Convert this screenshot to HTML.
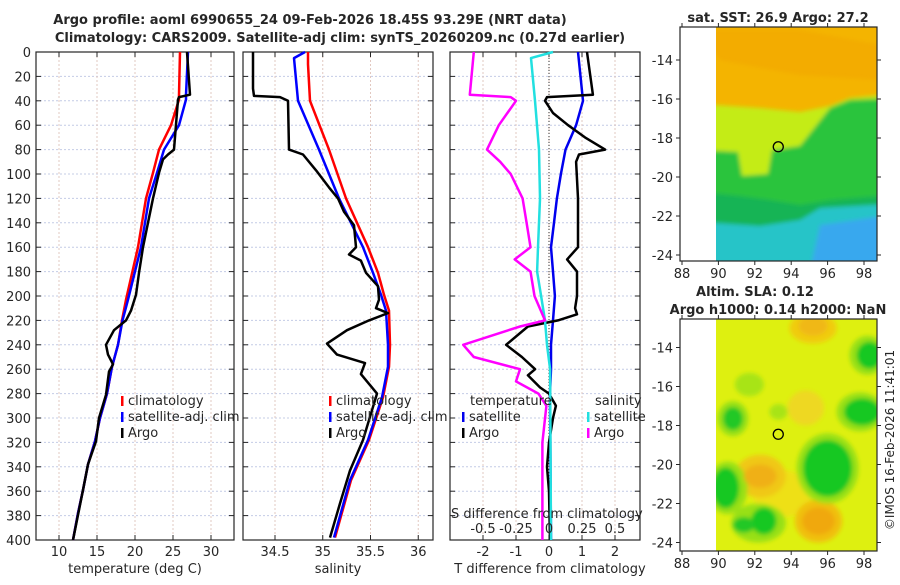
<!DOCTYPE html>
<html><head><meta charset="utf-8"><style>
body{margin:0;background:#fff;}
svg text{font-family:"DejaVu Sans","Liberation Sans",sans-serif;fill:#262626;}
</style></head><body>
<svg id="c" width="900" height="580" viewBox="0 0 900 580" xmlns="http://www.w3.org/2000/svg">
<defs>
<filter id="bl" x="-20%" y="-20%" width="140%" height="140%"><feGaussianBlur stdDeviation="2"/></filter>
<clipPath id="m1c"><rect x="716" y="27" width="161" height="234"/></clipPath>
<clipPath id="m2c"><rect x="716" y="319" width="161" height="232"/></clipPath>
</defs>
<text x="310" y="24" text-anchor="middle" font-size="13" font-weight="bold">Argo profile: aoml 6990655_24 09-Feb-2026 18.45S 93.29E (NRT data)</text>
<text x="340" y="42" text-anchor="middle" font-size="13" font-weight="bold">Climatology: CARS2009. Satellite-adj clim: synTS_20260209.nc (0.27d earlier)</text>
<g id="plots"></g>
</svg>
<script>
const depthTicks=[0,20,40,60,80,100,120,140,160,180,200,220,240,260,280,300,320,340,360,380,400];
const tTicks=[10,15,20,25,30];
const sTicks=[34.5,35,35.5,36];
const dTTicks=[-2,-1,0,1,2];
const dSTicks=[-0.5,-0.25,0,0.25,0.5];
const dSTickLabels=['-0.5','-0.25','0','0.25','0.5'];
// temperature
const tClimDepth=[0,35,39,60,80,99,120,160,203,220,240,258,280,300,319,338,359,378,400];
const tClimVal=[25.92,25.79,25.79,24.74,23.16,22.37,21.45,20.39,18.82,18.29,17.76,16.97,16.32,15.39,14.74,13.82,13.16,12.5,11.84];
const tSatDepth=[0,35,39,60,80,99,120,160,203,220,240,258,280,300,319,338,359,378,400];
const tSatVal=[26.97,26.71,26.71,25.79,23.82,22.89,21.84,20.79,19.08,18.35,17.76,16.97,16.32,15.39,14.74,13.82,13.16,12.5,11.84];
const tArgoDepth=[0,35,37,39,80,84,88,99,120,140,160,181,199,212,220,228,240,248,256,262,281,300,319,338,359,400];
const tArgoVal=[26.84,27.24,25.79,25.66,25.13,24.34,23.68,23.16,22.37,21.71,21.05,20.53,20.13,19.47,18.82,17.24,16.18,16.45,17.11,16.58,16.18,15.26,14.87,13.82,13.16,11.84];
// salinity
const sClimDepth=[0,10,40,80,120,160,181,199,212,240,258,283,318,351,398];
const sClimVal=[34.846,34.846,34.867,35.065,35.243,35.474,35.579,35.641,35.694,35.704,35.694,35.631,35.484,35.296,35.128];
const sSatDepth=[0,5,40,80,120,160,181,199,212,240,258,283,318,351,398];
const sSatVal=[34.814,34.699,34.741,34.961,35.17,35.421,35.526,35.61,35.662,35.683,35.683,35.62,35.474,35.285,35.118];
const sArgoDepth=[0,30,36,37,40,80,84,97,111,120,131,142,160,166,171,181,192,203,210,214,220,228,239,248,255,264,273,280,299,318,343,370,398];
const sArgoVal=[34.27,34.27,34.28,34.552,34.636,34.647,34.793,34.929,35.065,35.16,35.223,35.327,35.348,35.275,35.4,35.453,35.579,35.589,35.558,35.683,35.484,35.254,35.045,35.149,35.442,35.4,35.495,35.568,35.495,35.421,35.285,35.181,35.076];
// differences
const dTSatDepth=[0,40,60,80,100,120,140,160,180,200,220,240,260,280,400];
const dTSatVal=[0.88,1.03,0.82,0.5,0.36,0.24,0.15,0.06,0.12,0.18,0.12,0.06,0.06,0.03,0.06];
const dTArgoDepth=[0,35,37,40,50,60,70,80,84,90,120,160,170,180,200,210,215,220,225,240,250,260,265,275,280,290,300,320,340,360,400];
const dTArgoVal=[1.15,1.33,-0.06,-0.12,0.12,0.58,1.09,1.7,0.91,0.82,0.88,0.88,0.55,0.85,0.85,0.79,0.85,0.27,-0.64,-1.3,-0.82,-0.42,-0.64,-0.27,0,0.21,0.12,0,-0.06,0,0.03];
const dSSatDepth=[0,5,40,80,120,160,180,200,220,240,260,400];
const dSSatVal=[0.03,-0.136,-0.106,-0.076,-0.068,-0.083,-0.09,-0.06,-0.03,-0.015,0.008,0.015];
const dSArgoDepth=[0,35,37,40,60,80,90,100,120,140,160,170,180,200,220,225,240,250,260,270,280,290,320,360,400];
const dSArgoVal=[-0.57,-0.6,-0.29,-0.25,-0.38,-0.47,-0.37,-0.29,-0.2,-0.17,-0.14,-0.26,-0.14,-0.11,-0.03,-0.22,-0.65,-0.57,-0.22,-0.25,-0.08,-0.02,-0.05,-0.05,-0.05];

const NS='http://www.w3.org/2000/svg';
const root=document.getElementById('plots');
function el(tag,attrs,parent,txt){const e=document.createElementNS(NS,tag);for(const k in attrs)e.setAttribute(k,attrs[k]);if(txt!==undefined)e.textContent=txt;(parent||root).appendChild(e);return e;}
const Y0=52,Y1=540;
const yD=d=>Y0+d/400*(Y1-Y0);
const xT=t=>59+(t-10)*7.6;
const xS=s=>275+(s-34.5)*95.5;
const xDT=d=>549+d*33;
const xDS=d=>549+d*132;

function panel(name){
  const g=el('g',{});
  
  
  return g;
}
function grid(g,x0,x1,xs){
  depthTicks.forEach(d=>{const l=el('line',{x1:x0,x2:x1,y1:yD(d),y2:yD(d),stroke:'#c4cce6','stroke-width':1,'stroke-dasharray':'2,2'},g);
    
    el('line',{x1:x0,x2:x0+5,y1:yD(d),y2:yD(d),stroke:'#262626'},g);el('line',{x1:x1-5,x2:x1,y1:yD(d),y2:yD(d),stroke:'#262626'},g);});
  xs.forEach(x=>{el('line',{x1:x,x2:x,y1:Y0,y2:Y1,stroke:'#e2c8c0','stroke-width':1,'stroke-dasharray':'2,2'},g);
    el('line',{x1:x,x2:x,y1:Y1,y2:Y1-5,stroke:'#262626'},g);el('line',{x1:x,x2:x,y1:Y0,y2:Y0+5,stroke:'#262626'},g);});
  const f=el('rect',{x:x0,y:Y0,width:x1-x0,height:Y1-Y0,fill:'none',stroke:'#262626','stroke-width':1.2},g);
  
}
function line(g,ds,vs,fx,color,name,w){
  const p=ds.map((d,i)=>(i?'L':'M')+fx(vs[i]).toFixed(1)+','+yD(d).toFixed(1)).join('');
  const e=el('path',{d:p,fill:'none',stroke:color,'stroke-width':w||2.5,'stroke-linejoin':'round'},g);
  
  
}
function legEntry(g,x,y,color,label,name){
  el('rect',{x:x,y:y-9,width:2.5,height:10,fill:color},g);
  const t=el('text',{x:x+7,y:y,'font-size':13},g,label);
  
  
}

// Panel 1: temperature
const g1=panel('temperature-panel');
grid(g1,36,234,tTicks.map(xT));
depthTicks.forEach(d=>{const t=el('text',{x:31,y:yD(d)+5,'text-anchor':'end','font-size':13},g1,String(d));});
tTicks.forEach(v=>{const t=el('text',{x:xT(v),y:556,'text-anchor':'middle','font-size':13},g1,String(v));});
let xt=el('text',{x:135,y:573,'text-anchor':'middle','font-size':13},g1,'temperature (deg C)');
line(g1,tClimDepth,tClimVal,xT,'#ff0000','temp-climatology-line');
line(g1,tSatDepth,tSatVal,xT,'#0000ff','temp-satellite-line');
line(g1,tArgoDepth,tArgoVal,xT,'#000000','temp-argo-line');
legEntry(g1,121,405,'#ff0000','climatology','legend-climatology');
legEntry(g1,121,421,'#0000ff','satellite-adj. clim','legend-satellite');
legEntry(g1,121,437,'#000000','Argo','legend-argo');

// Panel 2: salinity
const g2=panel('salinity-panel');
grid(g2,243,433,sTicks.map(xS));
sTicks.forEach(v=>{const t=el('text',{x:xS(v),y:556,'text-anchor':'middle','font-size':13},g2,String(v));});
xt=el('text',{x:338,y:573,'text-anchor':'middle','font-size':13},g2,'salinity');
line(g2,sClimDepth,sClimVal,xS,'#ff0000','sal-climatology-line');
line(g2,sSatDepth,sSatVal,xS,'#0000ff','sal-satellite-line');
line(g2,sArgoDepth,sArgoVal,xS,'#000000','sal-argo-line');
legEntry(g2,329,405,'#ff0000','climatology','legend-climatology');
legEntry(g2,329,421,'#0000ff','satellite-adj. clim','legend-satellite');
legEntry(g2,329,437,'#000000','Argo','legend-argo');

// Panel 3: differences
const g3=panel('difference-panel');
grid(g3,450,640,dTTicks.map(xDT));
el('line',{x1:549,x2:549,y1:Y0,y2:Y1,stroke:'#333','stroke-width':1,'stroke-dasharray':'1,2'},g3);
dTTicks.forEach(v=>{const t=el('text',{x:xDT(v),y:556,'text-anchor':'middle','font-size':13},g3,String(v));});
xt=el('text',{x:550,y:573,'text-anchor':'middle','font-size':13},g3,'T difference from climatology');
line(g3,dTSatDepth,dTSatVal,xDT,'#0000ee','t-diff-satellite-line');
line(g3,dTArgoDepth,dTArgoVal,xDT,'#000000','t-diff-argo-line');
line(g3,dSSatDepth,dSSatVal,xDS,'#22e0e0','s-diff-satellite-line');
line(g3,dSArgoDepth,dSArgoVal,xDS,'#ff00ff','s-diff-argo-line');
xt=el('text',{x:451,y:518,'font-size':13},g3,'S difference from climatology');
dSTicks.forEach((v,i)=>{const t=el('text',{x:xDS(v),y:533,'text-anchor':'middle','font-size':13},g3,dSTickLabels[i]);});
xt=el('text',{x:470,y:405,'font-size':13},g3,'temperature');
legEntry(g3,462,421,'#0000ee','satellite','legend-t-satellite');
legEntry(g3,462,437,'#000000','Argo','legend-t-argo');
xt=el('text',{x:595,y:405,'font-size':13},g3,'salinity');
legEntry(g3,587,421,'#22e0e0','satellite','legend-s-satellite');
legEntry(g3,587,437,'#ff00ff','Argo','legend-s-argo');

// Maps
const lonTicks=[88,90,92,94,96,98];
const latTicks=[-14,-16,-18,-20,-22,-24];
const argoLon=93.29, argoLat=-18.45;
const xL=lon=>682+(lon-88)*18.2;
function mapAxes(g,top,bottom,latY){
  el('rect',{x:680,y:top,width:197,height:bottom-top,fill:'none',stroke:'#262626','stroke-width':1.2},g);
  latTicks.forEach(v=>{const y=latY(v);el('line',{x1:676,x2:680,y1:y,y2:y,stroke:'#262626'},g);el('line',{x1:877,x2:881,y1:y,y2:y,stroke:'#262626'},g);
    const t=el('text',{x:673,y:y+5,'text-anchor':'end','font-size':13},g,String(v));});
  lonTicks.forEach(v=>{const x=xL(v);el('line',{x1:x,x2:x,y1:bottom,y2:bottom+4,stroke:'#262626'},g);el('line',{x1:x,x2:x,y1:top,y2:top-4,stroke:'#262626'},g);
    const t=el('text',{x:x,y:bottom+17,'text-anchor':'middle','font-size':13},g,String(v));});
  const c=el('circle',{cx:xL(argoLon),cy:latY(argoLat),r:5,fill:'none',stroke:'#000','stroke-width':1.3},g);
  
}
// SST map
const m1=panel('sst-map');
const y1=lat=>60+(-14-lat)*19.5;
const f1=el('g',{'clip-path':'url(#m1c)'},m1);
el('rect',{x:716,y:27,width:161,height:234,fill:'#f4b400'},f1);
const b1=el('g',{filter:'url(#bl)'},f1);
el('path',{d:'M700,30 L800,30 L880,45 L880,80 L800,75 L720,60Z',fill:'#f2a800',opacity:0.7},b1);
el('path',{d:'M700,104 L760,108 L800,112 L830,106 L850,98 L890,94 L890,270 L700,270Z',fill:'#c4ec18'},b1);
el('path',{d:'M700,150 L738,152 L742,176 L768,174 L772,150 L800,146 L830,108 L850,100 L890,98 L890,270 L700,270Z',fill:'#2cc43c'},b1);
el('path',{d:'M700,192 L740,196 L770,200 L800,205 L830,200 L890,195 L890,270 L700,270Z',fill:'#18b454'},b1);
el('path',{d:'M700,222 L760,226 L800,220 L820,208 L890,204 L890,270 L700,270Z',fill:'#28c4c8'},b1);
el('path',{d:'M820,225 L890,215 L890,270 L810,270Z',fill:'#38a8ee'},b1);
mapAxes(m1,27,261,y1);
xt=el('text',{x:778,y:22,'text-anchor':'middle','font-size':13,'font-weight':'bold'},m1,'sat. SST: 26.9 Argo: 27.2');
// SLA map
const m2=panel('sla-map');
const y2=lat=>347.5+(-14-lat)*19.5;
const f2=el('g',{'clip-path':'url(#m2c)'},m2);
el('rect',{x:716,y:319,width:161,height:232,fill:'#def010'},f2);
const b2=el('g',{filter:'url(#bl)'},f2);
const pxr=18.2, pyr=19.5;
[[95.2,-13,1.3,0.8,'#f0cc10'],[94.8,-17.1,1,0.9,'#eed820'],[93.5,-21.5,1.6,1.2,'#eee018'],
 [95.5,-22.9,1.3,1.1,'#f0c010'],[92.3,-20.6,1.4,1.1,'#f0c818'],
 [96,-20.2,1.7,1.8,'#98e018'],[97.8,-17.3,1.3,1,'#98e018'],[98.2,-14.4,1,1,'#98e018'],[90.5,-21.2,1.1,1.35,'#98e018'],[92.2,-23,1.5,1,'#98e018'],[90.8,-17.65,0.85,0.9,'#98e018'],[91.7,-15.9,0.8,0.6,'#a8e418'],[93.3,-17.3,0.5,0.4,'#a8e418'],
 [95.5,-22.9,0.9,0.7,'#f0a810'],[92.3,-20.6,0.9,0.6,'#f0b018'],[95.2,-12.9,0.8,0.5,'#f0b818'],
 [96,-20.2,1.35,1.45,'#12c820'],[97.9,-17.3,1,0.7,'#12c820'],[98.3,-14.4,0.7,0.7,'#12c820'],[90.4,-21.2,0.75,1.05,'#12c820'],[92.5,-22.9,0.7,0.7,'#12c820'],[91.4,-23.1,0.6,0.4,'#20c828'],[90.8,-17.65,0.55,0.6,'#20c828']
].forEach(b=>{el('ellipse',{cx:xL(b[0]),cy:y2(b[1]),rx:b[2]*pxr,ry:b[3]*pyr,fill:b[4]},b2);});
mapAxes(m2,319,551,y2);
xt=el('text',{x:755,y:296,'text-anchor':'middle','font-size':13,'font-weight':'bold'},m2,'Altim. SLA: 0.12');
xt=el('text',{x:778,y:314,'text-anchor':'middle','font-size':13,'font-weight':'bold'},m2,'Argo h1000: 0.14 h2000: NaN');
xt=el('text',{x:0,y:0,'text-anchor':'middle','font-size':12,transform:'translate(894,440) rotate(-90)'},root,'©IMOS 16-Feb-2026 11:41:01');


</script>
</body></html>
